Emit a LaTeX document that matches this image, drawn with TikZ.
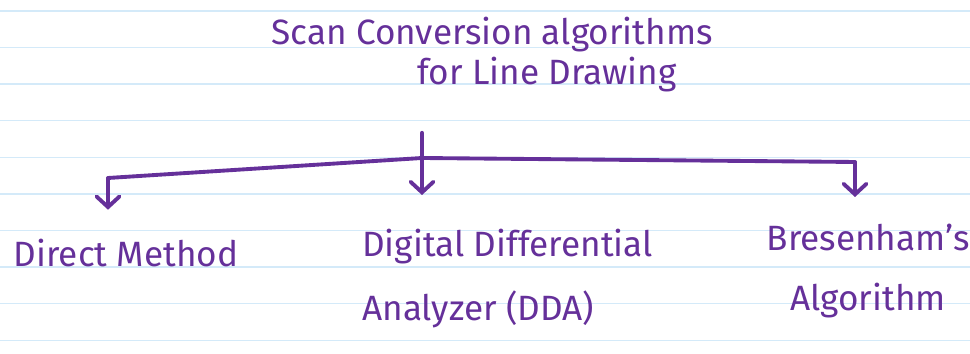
\documentclass[tikz,border=0pt]{standalone}
\usepackage{fontspec}
\setmainfont{Fira Sans}
\usepackage{xcolor,tikz}
\usetikzlibrary{positioning,calc,arrows.meta}
\definecolor{inkPurple}{HTML}{65309A}
\definecolor{ruleBlue}{HTML}{D4EAF9}

\tikzset{
  ink/.style={draw=inkPurple, line width=2.2pt, line cap=round, line join=round},
  inkarrow/.style={ink, -{Straight Barb[length=6pt,width=13pt,line cap=round]}},
  hand/.style={text=inkPurple, font=\fontsize{20}{36}\selectfont, inner sep=0pt},
}

\begin{document}
\begin{tikzpicture}

% --- PAGE ---
\def\W{19.4}            % page width in cm
\def\H{7.08}            % page height in cm
\def\rs{0.732}          % ruling spacing
\fill[white] (0,0) rectangle (\W,\H);
\useasboundingbox (0,0) rectangle (\W,\H);
\foreach \k in {0,...,9} {
  \pgfmathsetmacro\ry{\H - 0.22 - \k*\rs}
  \draw[ruleBlue, line width=0.8pt] (0,\ry) -- (\W,\ry);
}

% --- TITLE ---
\node[hand, anchor=base] (title) at (9.84, 6.18) {Scan Conversion algorithms};
\node[hand, anchor=base] (titlesub) at (10.94, 5.38) {for Line Drawing};

% --- BRANCH POINTS ---
\coordinate (hub) at (8.44, 3.92);
\coordinate (lft) at (2.16, 3.52);
\coordinate (rgt) at (17.10, 3.84);

% --- LEAVES ---
\node[hand, anchor=base] (direct) at (2.52, 1.74) {Direct Method};
\node[hand, anchor=north west, align=left] (dda) at (7.24, 2.5)
  {Digital Differential\\Analyzer (DDA)};
\node[hand, anchor=north, align=center] (bresenham) at (17.36, 2.6)
  {Bresenham's\\[-2pt]Algorithm};

% --- CONNECTORS ---
\draw[ink, shorten <=0.8cm] (titlesub.south -| hub) -- (hub);
\draw[ink] (lft) -- (hub) -- (rgt);
\draw[inkarrow, shorten >=0.59cm] (lft) -- (lft |- direct.north);
\draw[inkarrow, shorten >=0.68cm] (hub) -- (hub |- dda.north);
\draw[inkarrow, shorten >=0.54cm] (rgt) -- (rgt |- bresenham.north);

\end{tikzpicture}
\end{document}
